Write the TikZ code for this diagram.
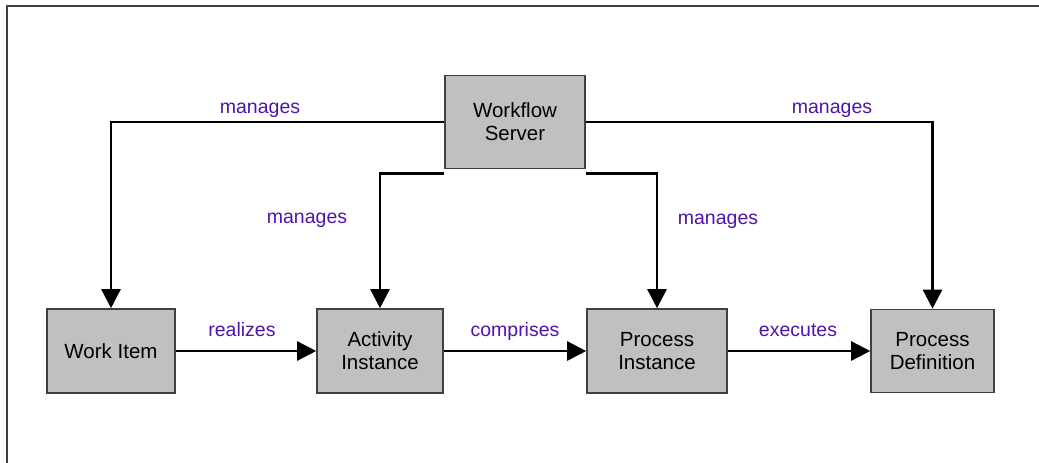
\documentclass[tikz,border=0pt]{standalone}
\usepackage{fontspec}
\setmainfont{Liberation Sans}
\usetikzlibrary{arrows.meta,calc}
\definecolor{boxfill}{RGB}{192,192,192}
\definecolor{boxline}{RGB}{64,64,64}
\definecolor{lblcol}{RGB}{80,20,170}
\begin{document}
\begin{tikzpicture}[x=1pt,y=-1pt,
  entity/.style={draw=boxline,fill=boxfill,line width=1.6pt,align=center,
    font=\fontsize{20.5}{23}\selectfont,inner sep=0pt},
  link/.style={line width=2.6pt,line cap=butt,-{Triangle[length=19pt,width=19pt]}},
  lbl/.style={text=lblcol,font=\fontsize{19.5}{22}\selectfont,anchor=base,inner sep=0pt}]
\useasboundingbox (0,0) rectangle (1039,463);
\draw[line width=2pt,draw=boxline] (7,470) -- (7,6) -- (1045,6);
\node[entity,minimum width=140pt,minimum height=93pt] (WS) at (515,122) {Workflow\\Server};
\node[entity,minimum width=128pt,minimum height=84pt] (WI) at (111,351) {Work Item};
\node[entity,minimum width=126pt,minimum height=84pt] (AI) at (380,351) {Activity\\Instance};
\node[entity,minimum width=140pt,minimum height=84pt] (PI) at (657,351) {Process\\Instance};
\node[entity,minimum width=123pt,minimum height=83pt] (PD) at (932.5,351) {Process\\Definition};
\coordinate (wsl) at ($(WS.south west)+(0,4)$);
\coordinate (wsr) at ($(WS.south east)+(0,4)$);
\draw[link] (WS.west) -| (WI.north);
\draw[link] (WS.east) -| (PD.north);
\draw[link] (wsl) -| (AI.north);
\draw[link] (wsr) -| (PI.north);
\draw[link] (WI.east) -- (AI.west);
\draw[link] (AI.east) -- (PI.west);
\draw[link] (PI.east) -- (PD.west);
\node[lbl] (l1) at (260,113) {manages};
\node[lbl] (l2) at (832,113) {manages};
\node[lbl] (l3) at (307,223) {manages};
\node[lbl] (l4) at (718,224) {manages};
\node[lbl] (l5) at (242,336) {realizes};
\node[lbl] (l6) at (515,336) {comprises};
\node[lbl] (l7) at (798,336) {executes};
\end{tikzpicture}
\end{document}
